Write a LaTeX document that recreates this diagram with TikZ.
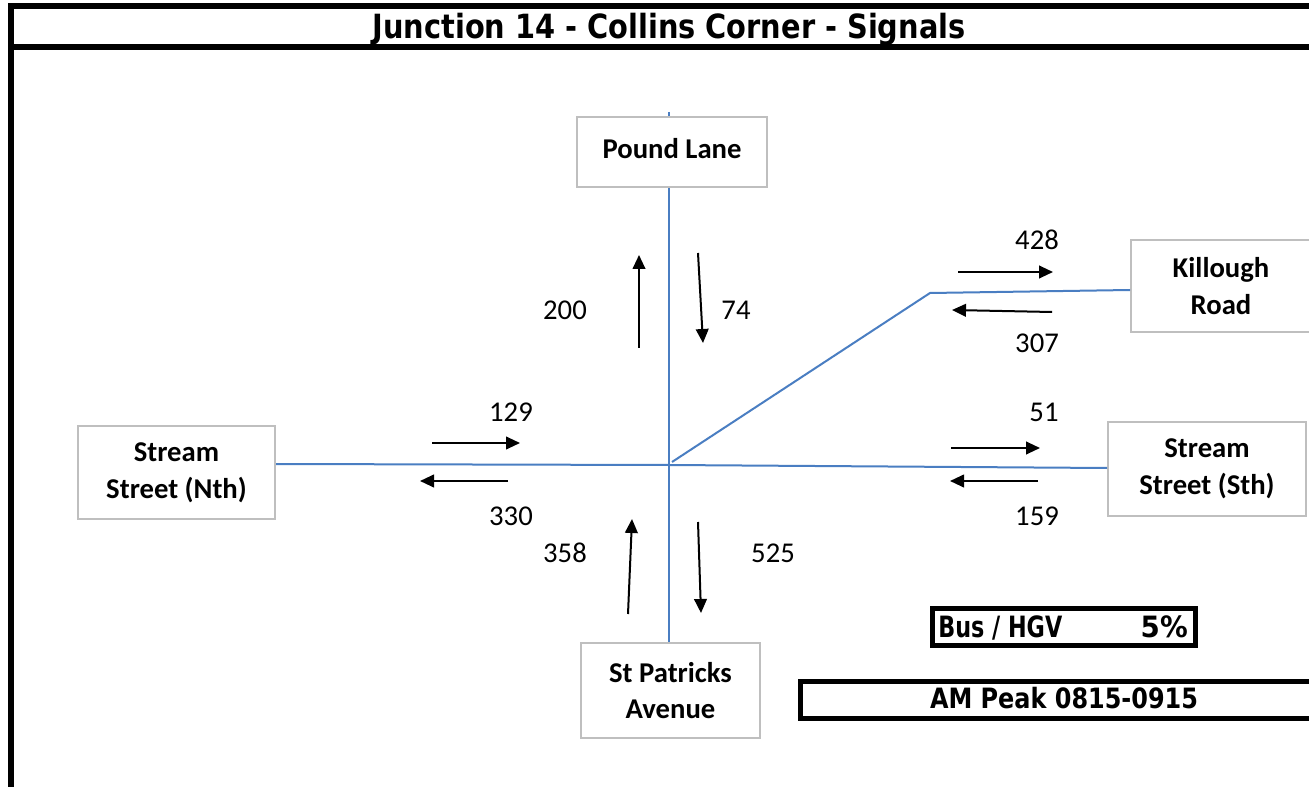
\documentclass[tikz,border=0pt]{standalone}
\usepackage{graphicx}
\usepackage{fontspec}
\setmainfont{Carlito}
\newfontfamily\tah{DejaVu Sans}
\usetikzlibrary{arrows.meta}
\definecolor{roadblue}{HTML}{4A7EC2}
\definecolor{boxgray}{HTML}{BFBFBF}
\begin{document}
\begin{tikzpicture}[x=0.75pt,y=-0.75pt,
  roadbox/.style={draw=boxgray,line width=1.5pt,fill=white,align=center,inner sep=0pt,
    font=\bfseries\fontsize{21.5}{27.5}\selectfont},
  roadline/.style={draw=roadblue,line width=1.5pt},
  flow/.style={line width=1.5pt,-{Triangle[length=10.5pt,width=9.5pt]}},
  vol/.style={inner sep=0pt,font=\fontsize{21.5}{26}\selectfont},
  frame/.style={line width=4pt},
  infotext/.style={inner sep=0pt}]
\useasboundingbox (0,0) rectangle (1309,787);
% frame
\draw[frame] (8,6) -- (1330,6);
\draw[frame] (8,47) -- (1330,47);
\draw[line width=4.5pt] (11,4) -- (11,800);
\node[infotext,anchor=base] (title) at (669,39)
  {\resizebox{444.75pt}{\height}{\tah\bfseries\fontsize{25}{28}\selectfont Junction 14 - Collins Corner - Signals}};
% boxes
\node[roadbox,minimum width=142.5pt,minimum height=52.5pt] (pound) at (672,152) {\raisebox{6pt}{Pound Lane}};
\node[roadbox,minimum width=134.25pt,minimum height=71.25pt] (stp) at (670.5,690.5) {St Patricks\\Avenue};
\node[roadbox,minimum width=147.75pt,minimum height=69.75pt] (nth) at (176.5,472.5) {Stream\\Street (Nth)};
\node[roadbox,minimum width=148.5pt,minimum height=70.5pt] (sth) at (1207,469) {Stream\\Street (Sth)};
\node[roadbox,minimum width=135pt,minimum height=69pt] (kil) at (1221,286) {Killough\\Road};
% roads
\coordinate (C) at (669,465);
\coordinate (ptop) at (669,112);
\coordinate (bend) at (930,293);
\draw[roadline] (ptop) -- (pound.north -| ptop);
\draw[roadline] (pound.south -| C) -- (stp.north -| C);
\draw[roadline] (nth.east |- 0,464) -- (C) -- (sth.west |- 0,468);
\draw[roadline] (672,462) -- (bend) -- (kil.west |- 0,290);
% flows
\draw[flow] (639,348) -- (639,255);
\draw[flow] (698,253) -- (703,343);
\draw[flow] (628,614) -- (632,519);
\draw[flow] (698,522) -- (701,613);
\draw[flow] (432,443) -- (520,443);
\draw[flow] (508,481) -- (420,481);
\draw[flow] (951,448) -- (1040,448);
\draw[flow] (1038,481) -- (950,481);
\draw[flow] (958,272) -- (1053,272);
\draw[flow] (1052,312) -- (952,310);
% volumes
\node[vol] (v200) at (565,310) {200};
\node[vol] (v74) at (736,310) {74};
\node[vol] (v428) at (1037,240) {428};
\node[vol] (v307) at (1037,343) {307};
\node[vol] (v129) at (511,412) {129};
\node[vol] (v330) at (511,516) {330};
\node[vol] (v51) at (1044,412) {51};
\node[vol] (v159) at (1037,516) {159};
\node[vol] (v358) at (565,553) {358};
\node[vol] (v525) at (773,553) {525};
% info boxes
\node[draw,line width=3.75pt,minimum width=197.25pt,minimum height=27.75pt,inner sep=0pt] (bus) at (1063.5,626.5) {};
\node[infotext,anchor=base west] (bustext) at (938,637)
  {\resizebox{93pt}{\height}{\tah\bfseries\fontsize{22}{25}\selectfont Bus / HGV}};
\node[infotext,anchor=base east] (buspct) at (1188,637)
  {\resizebox{35.25pt}{\height}{\tah\bfseries\fontsize{22}{25}\selectfont 5\%}};
\draw[line width=3.75pt] (1330,681) -- (800,681) -- (800,718) -- (1330,718);
\node[infotext,anchor=base] (peak) at (1064,708)
  {\resizebox{201pt}{\height}{\tah\bfseries\fontsize{21}{25}\selectfont AM Peak 0815-0915}};
\end{tikzpicture}
\end{document}
